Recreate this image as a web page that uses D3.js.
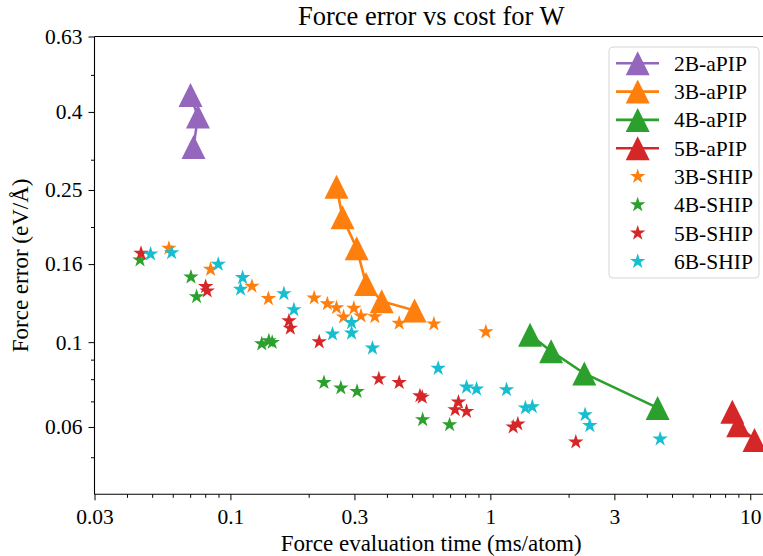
<!DOCTYPE html>
<html>
<head>
<meta charset="utf-8">
<script src="https://cdn.jsdelivr.net/npm/d3@7"></script>
<style>
	body { margin: 0; background: #fff; }
	text { font-family: "Liberation Serif", "Times New Roman", serif; fill: #000; }
</style>
</head>
<body>
<div id="chart"></div>
<script>
// [time (ms/atom), force error (eV/Å)]
const apip2 = [[0.0702, 0.443], [0.0750, 0.389], [0.0721, 0.324]];
const apip3 = [[0.256, 0.255], [0.270, 0.212], [0.306, 0.176], [0.3325, 0.142], [0.382, 0.128], [0.511, 0.121]];
const apip4 = [[1.422, 0.1045], [1.713, 0.0947], [2.299, 0.0828], [4.401, 0.0673]];
const apip5 = [[8.53, 0.0658], [8.99, 0.0606], [10.38, 0.0555]];

const ship3 = [[0.058, 0.176], [0.0839, 0.155], [0.121, 0.140], [0.140, 0.130], [0.210, 0.1305],
	[0.236, 0.126], [0.256, 0.123], [0.2725, 0.1164], [0.2985, 0.1227], [0.318, 0.1171],
	[0.3595, 0.1166], [0.446, 0.1121], [0.6065, 0.1116], [0.961, 0.1064]];
const ship4 = [[0.0449, 0.164], [0.0705, 0.148], [0.0741, 0.1315], [0.132, 0.099], [0.1406, 0.1008],
	[0.1448, 0.0998], [0.229, 0.0784], [0.266, 0.0759], [0.307, 0.0743], [0.549, 0.0627], [0.697, 0.0608]];
const ship5 = [[0.0453, 0.1707], [0.0803, 0.1397], [0.0814, 0.1361], [0.168, 0.1137], [0.170, 0.1088],
	[0.2196, 0.1002], [0.3725, 0.0802], [0.446, 0.0784], [0.536, 0.0724], [0.547, 0.0718],
	[0.754, 0.0697], [0.732, 0.0666], [0.810, 0.0659], [1.224, 0.0600], [1.276, 0.0611], [2.132, 0.0548]];
const ship6 = [[0.0493, 0.170], [0.0594, 0.1713], [0.0898, 0.1598], [0.1114, 0.1475], [0.1094, 0.1375],
	[0.1606, 0.1339], [0.1755, 0.1216], [0.247, 0.105], [0.2925, 0.1125], [0.2925, 0.1056],
	[0.352, 0.0965], [0.630, 0.0854], [0.810, 0.0763], [0.885, 0.0754], [1.154, 0.0751],
	[1.364, 0.0673], [1.450, 0.0678], [2.315, 0.0646], [2.414, 0.0605], [4.50, 0.0558]];

const apipNames = ["2B-aPIP", "3B-aPIP", "4B-aPIP", "5B-aPIP"];
const shipNames = ["3B-SHIP", "4B-SHIP", "5B-SHIP", "6B-SHIP"];
const apipColors = ["#9467bd", "#ff7f0e", "#2ca02c", "#d62728"];
const shipColors = ["#ff7f0e", "#2ca02c", "#d62728", "#17becf"];

const xTicks = [0.03, 0.1, 0.3, 1, 3, 10];
const yTicks = [0.06, 0.1, 0.16, 0.25, 0.4, 0.63];
const yMinor = [0.05, 0.07, 0.08, 0.09, 0.2, 0.3, 0.5];

const width = 763,
			height = 556;

const svg = d3.select("#chart")
	.append("svg")
		.attr("width", width)
		.attr("height", height);

const x = d3.scaleLog()
		.domain([0.03, 11.7])
		.range([94.5, 768]);

const y = d3.scaleLog()
		.domain([0.04, 0.63])
		.range([494.3, 36.5]);

const xMinor = [];
[0.01, 0.1, 1, 10].forEach(p => d3.range(2, 10).forEach(k => {
	const v = +(k * p).toPrecision(3);
	if (v > 0.03 && v < 11.7 && !xTicks.includes(v)) xMinor.push(v);
}));

const triSize = 24,
			starSize = 74;
const tri = s => `M0,${-s / 2}L${-s / 2},${s / 2}L${s / 2},${s / 2}Z`;
const star = d3.symbol(d3.symbolStar, starSize);

// axes
const axisG = svg.append("g");

const xAxis = axisG.append("g")
		.attr("transform", `translate(0,${y.range()[0]})`)
		.call(d3.axisBottom(x).tickValues(xTicks).tickFormat(d => d).tickSize(6).tickPadding(8));
axisG.append("g")
		.attr("transform", `translate(0,${y.range()[0]})`)
		.call(d3.axisBottom(x).tickValues(xMinor).tickFormat("").tickSize(3.5))
		.call(g => g.select(".domain").remove());

const yAxis = axisG.append("g")
		.attr("transform", `translate(${x.range()[0]},0)`)
		.call(d3.axisLeft(y).tickValues(yTicks).tickFormat(d => d).tickSize(6).tickPadding(6));
axisG.append("g")
		.attr("transform", `translate(${x.range()[0]},0)`)
		.call(d3.axisLeft(y).tickValues(yMinor).tickFormat("").tickSize(3.5))
		.call(g => g.select(".domain").remove());

axisG.selectAll(".domain").attr("stroke", "#000").attr("stroke-width", 1.1);
axisG.selectAll(".tick line").attr("stroke", "#000").attr("stroke-width", 1);
axisG.selectAll(".tick text")
		.style("font-family", "'Liberation Serif', serif")
		.style("font-size", "21.5px");
xAxis.selectAll(".domain").attr("d", `M${x.range()[0]},0H${x.range()[1]}`);
yAxis.selectAll(".domain").attr("d", `M0,${y.range()[0]}V${y.range()[1]}`);

// top and right spines
axisG.append("path")
		.attr("fill", "none")
		.attr("stroke", "#000")
		.attr("stroke-width", 1.1)
		.attr("d", `M${x.range()[0]},${y.range()[1]}H${x.range()[1]}V${y.range()[0]}`);

// aPIP lines + triangles
const apip = [apip2, apip3, apip4, apip5];
apip.forEach((data, i) => {
	svg.append("path")
			.datum(data)
			.attr("fill", "none")
			.attr("stroke", apipColors[i])
			.attr("stroke-width", 2.6)
			.attr("d", d3.line().x(d => x(d[0])).y(d => y(d[1])));
	svg.append("g")
		.selectAll("path")
		.data(data)
		.enter()
		.append("path")
			.attr("transform", d => `translate(${x(d[0])},${y(d[1])})`)
			.attr("fill", apipColors[i])
			.attr("d", tri(triSize));
});

// SHIP stars
const ship = [ship3, ship4, ship5, ship6];
ship.forEach((data, i) => {
	svg.append("g")
		.selectAll("path")
		.data(data)
		.enter()
		.append("path")
			.attr("transform", d => `translate(${x(d[0])},${y(d[1])})`)
			.attr("fill", shipColors[i])
			.attr("d", star);
});

// title and labels
svg.append("text")
		.attr("x", (x.range()[0] + x.range()[1]) / 2)
		.attr("y", 25)
		.attr("text-anchor", "middle")
		.style("font-size", "26.5px")
		.text("Force error vs cost for W");

svg.append("text")
		.attr("x", (x.range()[0] + x.range()[1]) / 2)
		.attr("y", 551)
		.attr("text-anchor", "middle")
		.style("font-size", "23px")
		.text("Force evaluation time (ms/atom)");

svg.append("text")
		.attr("transform", `translate(28,${(y.range()[0] + y.range()[1]) / 2}) rotate(-90)`)
		.attr("text-anchor", "middle")
		.style("font-size", "23px")
		.text("Force error (eV/Å)");

// legend
const legend = svg.append("g");
legend.append("rect")
		.attr("x", 609)
		.attr("y", 47)
		.attr("width", 150)
		.attr("height", 231)
		.attr("rx", 4)
		.attr("fill", "#fff")
		.attr("fill-opacity", 0.8)
		.attr("stroke", "#d6d6d6")
		.attr("stroke-width", 1);

const legendItems = apipNames.map((n, i) => ({name: n, color: apipColors[i], type: "apip"}))
	.concat(shipNames.map((n, i) => ({name: n, color: shipColors[i], type: "ship"})));

const row = legend.selectAll("g.row")
	.data(legendItems)
	.enter()
	.append("g")
		.attr("class", "row")
		.attr("transform", (d, i) => `translate(0,${63.3 + i * 28.3})`);

row.filter(d => d.type === "apip")
	.append("line")
		.attr("x1", 616)
		.attr("x2", 659)
		.attr("stroke", d => d.color)
		.attr("stroke-width", 2.6);

row.append("path")
		.attr("transform", "translate(637.7,0)")
		.attr("fill", d => d.color)
		.attr("d", d => d.type === "apip" ? tri(triSize) : star());

row.append("text")
		.attr("x", 674)
		.attr("dy", "0.35em")
		.style("font-size", "21.5px")
		.text(d => d.name);
</script>
</body>
</html>
